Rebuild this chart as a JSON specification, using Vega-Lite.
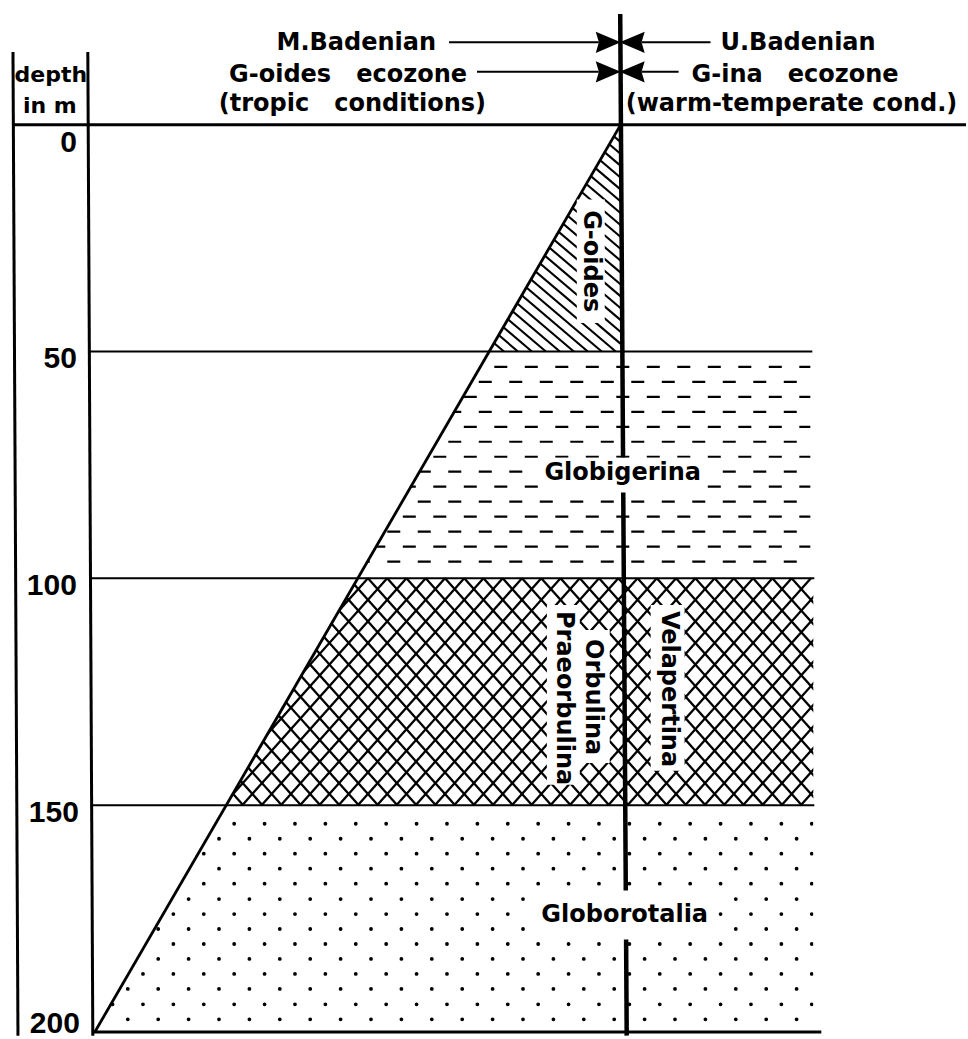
{
 "$schema": "https://vega.github.io/schema/vega-lite/v6.json",
 "width": 968, "height": 1039,
 "autosize": {"type": "fit", "contains": "padding"},
 "padding": 0,
 "background": "white",
 "config": {"view": {"stroke": null}},
 "datasets": {
  "hatch": [
   {"x":223.4,"d":0,"x2":491,"d2":50},{"x":237.4,"d":0,"x2":505,"d2":50},{"x":251.4,"d":0,"x2":519,"d2":50},{"x":265.4,"d":0,"x2":533,"d2":50},{"x":279.4,"d":0,"x2":547,"d2":50},
   {"x":293.4,"d":0,"x2":561,"d2":50},{"x":307.4,"d":0,"x2":575,"d2":50},{"x":321.4,"d":0,"x2":589,"d2":50},{"x":335.4,"d":0,"x2":603,"d2":50},{"x":349.4,"d":0,"x2":617,"d2":50},
   {"x":363.4,"d":0,"x2":622,"d2":48.32},{"x":377.4,"d":0,"x2":622,"d2":45.70},{"x":391.4,"d":0,"x2":622,"d2":43.09},{"x":405.4,"d":0,"x2":622,"d2":40.47},{"x":419.4,"d":0,"x2":622,"d2":37.86},
   {"x":433.4,"d":0,"x2":622,"d2":35.24},{"x":447.4,"d":0,"x2":622,"d2":32.63},{"x":461.4,"d":0,"x2":622,"d2":30.01},{"x":475.4,"d":0,"x2":622,"d2":27.40},{"x":489.4,"d":0,"x2":622,"d2":24.78},
   {"x":503.4,"d":0,"x2":622,"d2":22.17},{"x":517.4,"d":0,"x2":622,"d2":19.55},{"x":531.4,"d":0,"x2":622,"d2":16.94},{"x":545.4,"d":0,"x2":622,"d2":14.32},{"x":559.4,"d":0,"x2":622,"d2":11.71},
   {"x":573.4,"d":0,"x2":622,"d2":9.09},{"x":587.4,"d":0,"x2":622,"d2":6.48},{"x":601.4,"d":0,"x2":622,"d2":3.86},{"x":615.4,"d":0,"x2":622,"d2":1.25}
  ],
  "dashes": [
   {"d":53.4,"x":98,"x2":812},{"d":56.7,"x":113,"x2":812},{"d":60.0,"x":98,"x2":812},{"d":63.3,"x":113,"x2":812},{"d":66.6,"x":98,"x2":812},
   {"d":69.9,"x":113,"x2":812},{"d":73.2,"x":98,"x2":812},{"d":76.5,"x":113,"x2":812},{"d":79.8,"x":98,"x2":812},{"d":83.1,"x":113,"x2":812},
   {"d":86.4,"x":98,"x2":812},{"d":89.7,"x":113,"x2":812},{"d":93.0,"x":98,"x2":812},{"d":96.3,"x":113,"x2":812}
  ],
  "cross": [
   {"x":40.6,"d":100,"x2":243.7,"d2":150},{"x":59.9,"d":100,"x2":263.0,"d2":150},{"x":79.2,"d":100,"x2":282.3,"d2":150},{"x":98.5,"d":100,"x2":301.6,"d2":150},
   {"x":117.8,"d":100,"x2":320.9,"d2":150},{"x":137.1,"d":100,"x2":340.2,"d2":150},{"x":156.4,"d":100,"x2":359.5,"d2":150},{"x":175.7,"d":100,"x2":378.8,"d2":150},
   {"x":195.0,"d":100,"x2":398.1,"d2":150},{"x":214.3,"d":100,"x2":417.4,"d2":150},{"x":233.6,"d":100,"x2":436.7,"d2":150},{"x":252.9,"d":100,"x2":456.0,"d2":150},
   {"x":272.2,"d":100,"x2":475.3,"d2":150},{"x":291.5,"d":100,"x2":494.6,"d2":150},{"x":310.8,"d":100,"x2":513.9,"d2":150},{"x":330.1,"d":100,"x2":533.2,"d2":150},
   {"x":349.4,"d":100,"x2":552.5,"d2":150},{"x":368.7,"d":100,"x2":571.8,"d2":150},{"x":388.0,"d":100,"x2":591.1,"d2":150},{"x":407.3,"d":100,"x2":610.4,"d2":150},
   {"x":426.6,"d":100,"x2":629.7,"d2":150},{"x":445.9,"d":100,"x2":649.0,"d2":150},{"x":465.2,"d":100,"x2":668.3,"d2":150},{"x":484.5,"d":100,"x2":687.6,"d2":150},
   {"x":503.8,"d":100,"x2":706.9,"d2":150},{"x":523.1,"d":100,"x2":726.2,"d2":150},{"x":542.4,"d":100,"x2":745.5,"d2":150},{"x":561.7,"d":100,"x2":764.8,"d2":150},
   {"x":581.0,"d":100,"x2":784.1,"d2":150},{"x":600.3,"d":100,"x2":803.4,"d2":150},{"x":619.6,"d":100,"x2":822.7,"d2":150},{"x":638.9,"d":100,"x2":842.0,"d2":150},
   {"x":658.2,"d":100,"x2":861.3,"d2":150},{"x":677.5,"d":100,"x2":880.6,"d2":150},{"x":696.8,"d":100,"x2":899.9,"d2":150},{"x":716.1,"d":100,"x2":919.2,"d2":150},
   {"x":735.4,"d":100,"x2":938.5,"d2":150},{"x":754.7,"d":100,"x2":957.8,"d2":150},{"x":774.0,"d":100,"x2":977.1,"d2":150},{"x":793.3,"d":100,"x2":996.4,"d2":150},
   {"x":368.7,"d":100,"x2":165.6,"d2":150},{"x":388.0,"d":100,"x2":184.9,"d2":150},{"x":407.3,"d":100,"x2":204.2,"d2":150},{"x":426.6,"d":100,"x2":223.5,"d2":150},
   {"x":445.9,"d":100,"x2":242.8,"d2":150},{"x":465.2,"d":100,"x2":262.1,"d2":150},{"x":484.5,"d":100,"x2":281.4,"d2":150},{"x":503.8,"d":100,"x2":300.7,"d2":150},
   {"x":523.1,"d":100,"x2":320.0,"d2":150},{"x":542.4,"d":100,"x2":339.3,"d2":150},{"x":561.7,"d":100,"x2":358.6,"d2":150},{"x":581.0,"d":100,"x2":377.9,"d2":150},
   {"x":600.3,"d":100,"x2":397.2,"d2":150},{"x":619.6,"d":100,"x2":416.5,"d2":150},{"x":638.9,"d":100,"x2":435.8,"d2":150},{"x":658.2,"d":100,"x2":455.1,"d2":150},
   {"x":677.5,"d":100,"x2":474.4,"d2":150},{"x":696.8,"d":100,"x2":493.7,"d2":150},{"x":716.1,"d":100,"x2":513.0,"d2":150},{"x":735.4,"d":100,"x2":532.3,"d2":150},
   {"x":754.7,"d":100,"x2":551.6,"d2":150},{"x":774.0,"d":100,"x2":570.9,"d2":150},{"x":793.3,"d":100,"x2":590.2,"d2":150},{"x":812.6,"d":100,"x2":609.5,"d2":150},
   {"x":831.9,"d":100,"x2":628.8,"d2":150},{"x":851.2,"d":100,"x2":648.1,"d2":150},{"x":870.5,"d":100,"x2":667.4,"d2":150},{"x":889.8,"d":100,"x2":686.7,"d2":150},
   {"x":909.1,"d":100,"x2":706.0,"d2":150},{"x":928.4,"d":100,"x2":725.3,"d2":150},{"x":947.7,"d":100,"x2":744.6,"d2":150},{"x":967.0,"d":100,"x2":763.9,"d2":150},
   {"x":986.3,"d":100,"x2":783.2,"d2":150},{"x":1005.6,"d":100,"x2":802.5,"d2":150}
  ],
  "dots": [
   {"d":154.1,"x":112.8,"x2":818},{"d":157.4,"x":97.6,"x2":818},{"d":160.7,"x":112.8,"x2":818},{"d":164.0,"x":97.6,"x2":818},
   {"d":167.3,"x":112.8,"x2":818},{"d":170.7,"x":97.6,"x2":818},{"d":174.0,"x":112.8,"x2":818},{"d":177.3,"x":97.6,"x2":818},
   {"d":180.6,"x":112.8,"x2":818},{"d":183.9,"x":97.6,"x2":818},{"d":187.2,"x":112.8,"x2":818},{"d":190.5,"x":97.6,"x2":818},
   {"d":193.9,"x":112.8,"x2":818},{"d":197.2,"x":97.6,"x2":818}
  ],
  "lmask": [{"d":0,"x":622,"x2":0},{"d":200,"x":95,"x2":0}],
  "rmask": [{"x":815,"x2":968,"d":0.6,"d2":200.8}],
  "lines": [
   {"kind":"frame","x":13,"x2":968,"d":0,"d2":0},
   {"kind":"frame","x":13,"x2":18,"d":-16.0,"d2":200.8},
   {"kind":"frame","x":88,"x2":93,"d":-16.0,"d2":200.8},
   {"kind":"frame","x":92,"x2":823,"d":200,"d2":200},
   {"kind":"zone","x":89,"x2":814,"d":50,"d2":50},
   {"kind":"zone","x":90,"x2":816,"d":100,"d2":100},
   {"kind":"zone","x":91,"x2":816,"d":150,"d2":150},
   {"kind":"diag","x":622,"x2":95,"d":0,"d2":200},
   {"kind":"main","x":621.5,"x2":628,"d":-24.4,"d2":200.8},
   {"kind":"arrow","x":450,"x2":600,"d":-18.13,"d2":-18.13},
   {"kind":"arrow","x":643,"x2":712,"d":-18.13,"d2":-18.13},
   {"kind":"arrow","x":478,"x2":600,"d":-11.65,"d2":-11.65},
   {"kind":"arrow","x":643,"x2":680,"d":-11.65,"d2":-11.65}
  ],
  "arrows": [
   {"dir":"R","x":609.5,"d":-18.13},{"dir":"L","x":633.5,"d":-18.13},
   {"dir":"R","x":609.5,"d":-11.65},{"dir":"L","x":633.5,"d":-11.65}
  ],
  "boxes": [
   {"x":578,"x2":606,"d":16.5,"d2":43.7},
   {"x":540,"x2":708,"d":73.4,"d2":81.1},
   {"x":548,"x2":581,"d":105.9,"d2":145.5},
   {"x":576,"x2":611,"d":111.4,"d2":140.7},
   {"x":652,"x2":686,"d":105.9,"d2":142.4},
   {"x":535,"x2":715,"d":168.8,"d2":179.6}
  ],
  "depthlab": [
   {"label":"0","x":77,"d":0},{"label":"50","x":77,"d":50},{"label":"100","x":77,"d":100},
   {"label":"150","x":79,"d":150},{"label":"200","x":80,"d":200}
  ],
  "head": [
   {"label":"M.Badenian","x":437,"d":-16.48,"side":"L"},
   {"label":"G-oides\u00a0\u00a0\u00a0ecozone","x":468,"d":-9.45,"side":"L"},
   {"label":"(tropic\u00a0\u00a0\u00a0conditions)","x":487,"d":-3.0,"side":"L"},
   {"label":"U.Badenian","x":722,"d":-16.48,"side":"R"},
   {"label":"G-ina\u00a0\u00a0\u00a0ecozone","x":693,"d":-9.45,"side":"R"},
   {"label":"(warm-temperate cond.)","x":627,"d":-3.0,"side":"R"},
   {"label":"depth","x":51,"d":-9.45,"side":"C"},
   {"label":"in m","x":50,"d":-2.64,"side":"C"}
  ],
  "hlab": [
   {"label":"Globigerina","x":624,"d":76.7},
   {"label":"Globorotalia","x":626,"d":174.1}
  ],
  "vlab": [
   {"label":"G-oides","x":592,"d":30.1},
   {"label":"Praeorbulina","x":565,"d":126.4},
   {"label":"Orbulina","x":594,"d":126.2},
   {"label":"Velapertina","x":670,"d":124.4}
  ]
 },
 "encoding": {
  "x": {"field": "x", "type": "quantitative", "scale": {"domain": [0, 968], "nice": false, "zero": false}, "axis": null},
  "y": {"field": "d", "type": "quantitative", "scale": {"domain": [-27.47, 200.88], "reverse": true, "nice": false, "zero": false}, "axis": null}
 },
 "layer": [
  {"data": {"name": "hatch"}, "mark": {"type": "rule", "color": "black", "strokeWidth": 2.1},
   "encoding": {"x2": {"field": "x2"}, "y2": {"field": "d2"}}},
  {"data": {"name": "dashes"}, "mark": {"type": "rule", "color": "black", "strokeWidth": 2.2, "strokeDash": [13, 17.5]},
   "encoding": {"x2": {"field": "x2"}}},
  {"data": {"name": "cross"}, "mark": {"type": "rule", "color": "black", "strokeWidth": 2.3, "clip": true},
   "encoding": {"x2": {"field": "x2"}, "y2": {"field": "d2"}}},
  {"data": {"name": "dots"}, "mark": {"type": "rule", "color": "black", "strokeWidth": 3.8, "strokeCap": "round", "strokeDash": [0.01, 30.39]},
   "encoding": {"x2": {"field": "x2"}}},
  {"data": {"name": "lmask"}, "mark": {"type": "area", "orient": "horizontal", "color": "white", "opacity": 1},
   "encoding": {"x2": {"field": "x2"}}},
  {"data": {"name": "rmask"}, "mark": {"type": "rect", "color": "white", "opacity": 1},
   "encoding": {"x2": {"field": "x2"}, "y2": {"field": "d2"}}},
  {"data": {"name": "lines"}, "transform": [{"filter": "datum.kind === 'frame'"}], "mark": {"type": "rule", "color": "black", "strokeWidth": 3},
   "encoding": {"x2": {"field": "x2"}, "y2": {"field": "d2"}}},
  {"data": {"name": "lines"}, "transform": [{"filter": "datum.kind === 'zone' || datum.kind === 'arrow'"}], "mark": {"type": "rule", "color": "black", "strokeWidth": 2},
   "encoding": {"x2": {"field": "x2"}, "y2": {"field": "d2"}}},
  {"data": {"name": "lines"}, "transform": [{"filter": "datum.kind === 'diag'"}], "mark": {"type": "rule", "color": "black", "strokeWidth": 2.8},
   "encoding": {"x2": {"field": "x2"}, "y2": {"field": "d2"}}},
  {"data": {"name": "lines"}, "transform": [{"filter": "datum.kind === 'main'"}], "mark": {"type": "rule", "color": "black", "strokeWidth": 4.5},
   "encoding": {"x2": {"field": "x2"}, "y2": {"field": "d2"}}},
  {"data": {"name": "arrows"}, "mark": {"type": "point", "filled": true, "size": 625, "color": "black", "opacity": 1, "strokeWidth": 0},
   "encoding": {"shape": {"field": "dir", "type": "nominal", "legend": null,
     "scale": {"domain": ["R", "L"], "range": ["M-1,-0.85L1,0L-1,0.85L-0.75,0Z", "M1,-0.85L-1,0L1,0.85L0.75,0Z"]}}}},
  {"data": {"name": "boxes"}, "mark": {"type": "rect", "color": "white", "opacity": 1},
   "encoding": {"x2": {"field": "x2"}, "y2": {"field": "d2"}}},
  {"data": {"name": "depthlab"}, "transform": [{"filter": "datum.d > 0 && datum.d < 200"}],
   "mark": {"type": "text", "align": "right", "baseline": "alphabetic", "dy": 16.5, "font": "Liberation Sans", "fontWeight": "bold", "fontSize": 30, "color": "black"},
   "encoding": {"text": {"field": "label"}}},
  {"data": {"name": "depthlab"}, "transform": [{"filter": "datum.d == 0"}],
   "mark": {"type": "text", "align": "right", "baseline": "alphabetic", "dy": 27.7, "font": "Liberation Sans", "fontWeight": "bold", "fontSize": 30, "color": "black"},
   "encoding": {"text": {"field": "label"}}},
  {"data": {"name": "depthlab"}, "transform": [{"filter": "datum.d == 200"}],
   "mark": {"type": "text", "align": "right", "baseline": "alphabetic", "dy": 1, "font": "Liberation Sans", "fontWeight": "bold", "fontSize": 30, "color": "black"},
   "encoding": {"text": {"field": "label"}}},
  {"data": {"name": "head"}, "transform": [{"filter": "datum.side === 'L'"}],
   "mark": {"type": "text", "align": "right", "baseline": "alphabetic", "font": "DejaVu Sans", "fontWeight": "bold", "fontSize": 24, "color": "black"},
   "encoding": {"text": {"field": "label"}}},
  {"data": {"name": "head"}, "transform": [{"filter": "datum.side === 'R'"}],
   "mark": {"type": "text", "align": "left", "baseline": "alphabetic", "font": "DejaVu Sans", "fontWeight": "bold", "fontSize": 24, "color": "black"},
   "encoding": {"text": {"field": "label"}}},
  {"data": {"name": "head"}, "transform": [{"filter": "datum.side === 'C'"}],
   "mark": {"type": "text", "align": "center", "baseline": "alphabetic", "font": "DejaVu Sans", "fontWeight": "bold", "fontSize": 22, "color": "black"},
   "encoding": {"text": {"field": "label"}}},
  {"data": {"name": "hlab"},
   "mark": {"type": "text", "align": "center", "baseline": "middle", "font": "DejaVu Sans", "fontWeight": "bold", "fontSize": 24, "color": "black"},
   "encoding": {"text": {"field": "label"}}},
  {"data": {"name": "vlab"},
   "mark": {"type": "text", "align": "center", "baseline": "middle", "angle": 90, "font": "DejaVu Sans", "fontWeight": "bold", "fontSize": 24, "color": "black"},
   "encoding": {"text": {"field": "label"}}}
 ]
}
